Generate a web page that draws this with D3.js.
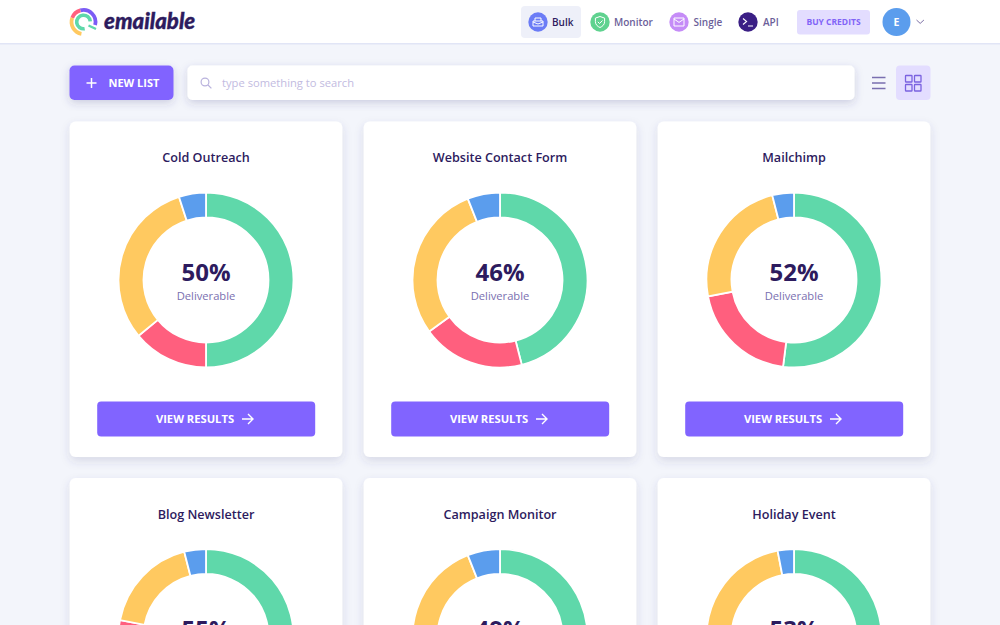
<!DOCTYPE html>
<html><head><meta charset="utf-8">
<script src="https://cdnjs.cloudflare.com/ajax/libs/d3/7.8.5/d3.min.js"></script>
<style>html,body{margin:0;padding:0;background:#f3f5fb;overflow:hidden}svg{display:block;font-family:"Open Sans",sans-serif}</style>
</head><body><svg id="c" width="1000" height="625"></svg>
<script>
const listNames = ["Cold Outreach","Website Contact Form","Mailchimp","Blog Newsletter","Campaign Monitor","Holiday Event"];
const deliverable = [50,46,52,55,49,53];
const undeliverable = [14,19,20,23,17,17];
const risky = [31,29,24,18,28,27];
const unknown = [5,6,4,4,6,3];
const segmentColors = ["#5fd8aa","#ff5f7e","#ffc960","#5b9ded"];
const centerLabel = "Deliverable";
const buttonLabel = "VIEW RESULTS";
const navLabels = ["Bulk","Monitor","Single","API"];

const svg = d3.select("#c");
const defs = svg.append("defs");
function shadow(id,dy,blur,op){const f=defs.append("filter").attr("id",id).attr("x","-20%").attr("y","-20%").attr("width","140%").attr("height","150%");
 f.append("feDropShadow").attr("dx",0).attr("dy",dy).attr("stdDeviation",blur).attr("flood-color","#3c3c78").attr("flood-opacity",op);}
shadow("card",4,5,0.15);shadow("sb",3,4,0.2);
const T=(x,y,s,size,w,fill,anchor)=>svg.append("text").attr("x",x).attr("y",y).text(s).attr("font-size",size).attr("font-weight",w).attr("fill",fill).attr("text-anchor",anchor||"start");
const R=(x,y,w,h,r,fill,p)=>(p||svg).append("rect").attr("x",x).attr("y",y).attr("width",w).attr("height",h).attr("rx",r).attr("fill",fill);

// header
R(0,0,1000,43.5,0,"#fff");
svg.append("rect").attr("x",0).attr("y",43).attr("width",1000).attr("height",1.5).attr("fill","#e1e5f6");

// logo
const logo=svg.append("g").attr("transform","translate(83.5,22)");
const rarc=(r,w,a,b,c)=>logo.append("path").attr("d",d3.arc().innerRadius(r-w/2).outerRadius(r+w/2).startAngle(a).endAngle(b)()).attr("fill",c);
const deg=Math.PI/180;
rarc(12,3.8,-15*deg,105*deg,"#7b5cf5");
rarc(12,3.8,-70*deg,-15*deg,"#ff5f7e");
rarc(12,3.8,-170*deg,-70*deg,"#ffc960");
rarc(6.8,3.6,-190*deg,85*deg,"#5fd8aa");
logo.append("path").attr("d","M5,3.5 L12.5,7").attr("stroke","#5fd8aa").attr("stroke-width",2.4).attr("fill","none");
T(104,29,"emailable",22.2,900,"#2d1b5e").attr("font-family","Lato, 'Open Sans'").attr("font-style","italic").attr("stroke","#2d1b5e").attr("stroke-width",0.35);

// nav
R(521,6,60,32,4,"#eef0f9");
const navCfg=[[538,"#6b7cf6",552,"#2d1b5e"],[600,"#5fd28f",614,"#6c5f9a"],[679,"#c58cf7",693.5,"#6c5f9a"],[748,"#3b1f85",763,"#6c5f9a"]];
navCfg.forEach((n,i)=>{
 svg.append("circle").attr("cx",n[0]).attr("cy",22).attr("r",9.7).attr("fill",n[1]);
 T(n[2],26,navLabels[i],10,600,n[3]);
});
const ic=svg.append("g").attr("fill","none").attr("stroke","#fff").attr("stroke-width",1);
ic.append("path").attr("d","M533,21 h10 v5 h-10 z M535,21 v-3 h6 v3 M533,22 l5,2 l5,-2");
ic.append("path").attr("d","M600,16.5 l4.6,1.6 v3.6 c0,3 -2.3,4.8 -4.6,5.8 c-2.3,-1 -4.6,-2.8 -4.6,-5.8 v-3.6 z M597.8,21.8 l1.7,1.7 l3,-3");
ic.append("path").attr("d","M674,18 h10 v8 h-10 z M674,19 l5,3.4 l5,-3.4");
ic.append("path").attr("d","M743,18.5 l3.6,3 l-3.6,3 M748,26 h5").attr("stroke-width",1.1);

R(797,10,73,24.5,3,"#e3ddff");
T(833.5,25,"BUY CREDITS",8.5,700,"#8164f7","middle");
svg.append("circle").attr("cx",896.5).attr("cy",22).attr("r",14).attr("fill","#5b9ded");
T(896.5,25.8,"E",10.5,700,"#fff","middle");
svg.append("path").attr("d","M916.5,20 l3.7,3.4 l3.7,-3.4").attr("fill","none").attr("stroke","#6c5f9a").attr("stroke-width",0.9);

// toolbar
R(69.5,65.5,104,34.5,5,"#8164ff").attr("filter","url(#sb)");
svg.append("path").attr("d","M86.5,83 h10 M91.5,78 v10").attr("stroke","#fff").attr("stroke-width",1.5).attr("fill","none");
T(108.5,87,"NEW LIST",11,700,"#fff");
R(187.5,65.5,667,34.5,5,"#fff").attr("filter","url(#sb)");
svg.append("circle").attr("cx",205).attr("cy",82).attr("r",3.9).attr("fill","none").attr("stroke","#b9b2dd").attr("stroke-width",1.2);
svg.append("path").attr("d","M208,85 l3.4,3.4").attr("stroke","#b9b2dd").attr("stroke-width",1.2);
T(222,87,"type something to search",11.2,400,"#c2bbdf");
svg.append("path").attr("d","M872,77.5 h13.5 M872,83 h13.5 M872,88.5 h13.5").attr("stroke","#7a6fb0").attr("stroke-width",1.4).attr("fill","none");
R(896,65.5,34.5,34.5,4,"#e3ddff");
[[906,76],[915,76],[906,85],[915,85]].forEach(p=>svg.append("rect").attr("x",p[0]-0.5).attr("y",p[1]-0.5).attr("width",6.5).attr("height",6.5).attr("rx",0.6).attr("fill","none").attr("stroke","#7a62e0").attr("stroke-width",1.3));

// cards
const arc=d3.arc().innerRadius(62.5).outerRadius(87.5);
const pie=d3.pie().sort(null).value(d=>d);
const colX=d3.scaleBand().domain([0,1,2]).range([69.7,930.3]).paddingInner(21.4/294).paddingOuter(0);
const rowY=d3.scalePoint().domain([0,1]).range([121.5,478]);
listNames.forEach((name,i)=>{
 const row=Math.floor(i/3), x=colX(i%3), y=rowY(row), w=colX.bandwidth(), cx=x+w/2, cy=y+158.5;
 R(x,y,w,335.5,6,"#fff").attr("filter","url(#card)");
 T(cx,y+40+(row?0.5:0),name,12.6,600,"#2d1b5e","middle");
 const g=svg.append("g").attr("transform",`translate(${cx},${cy})`);
 g.selectAll("path").data(pie([deliverable[i],undeliverable[i],risky[i],unknown[i]])).join("path")
  .attr("d",arc).attr("fill",(d,j)=>segmentColors[j]).attr("stroke","#fff").attr("stroke-width",1.8);
 T(cx,cy+1,deliverable[i]+"%",24,700,"#2d1b5e","middle");
 T(cx,cy+20,centerLabel,11.2,400,"#7a6fb0","middle");
 R(x+27.5,y+280,218,35,4,"#8164ff");
 T(cx-11,y+301.5,buttonLabel,11.2,700,"#fff","middle");
 const ax=cx+36, ay=y+297.5;
 svg.append("path").attr("d",`M${ax},${ay} h11 M${ax+6},${ay-5} l5,5 l-5,5`).attr("stroke","#fff").attr("stroke-width",1.4).attr("fill","none");
});
</script></body></html>
